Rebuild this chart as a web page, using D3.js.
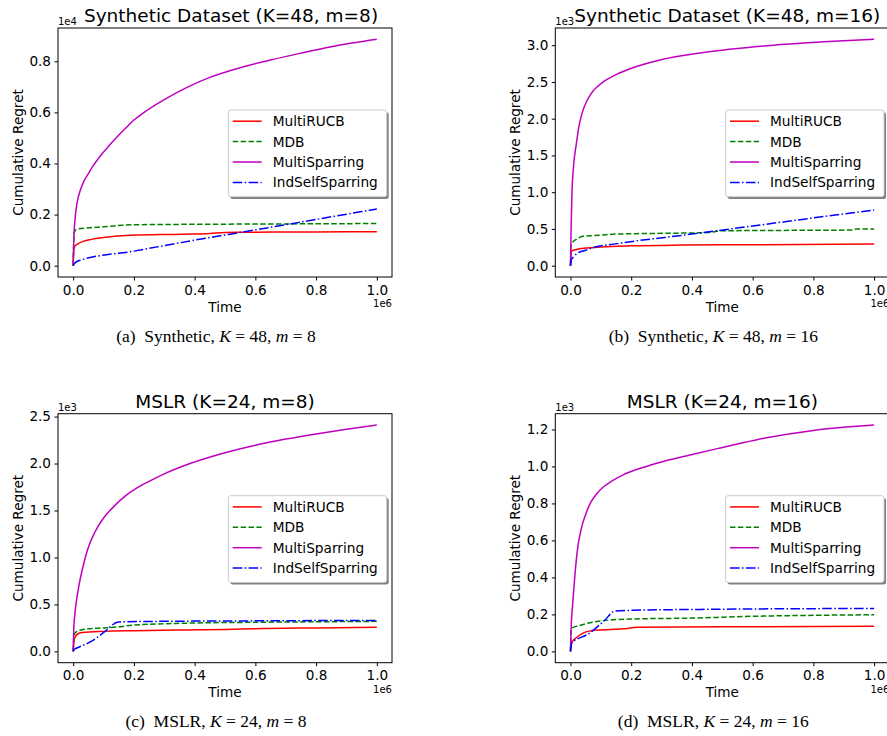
<!DOCTYPE html>
<html>
<head>
<meta charset="utf-8">
<script src="https://cdn.jsdelivr.net/npm/d3@7"></script>
<style>
  body { margin: 0; background: #fff; }
  text { font-family: 'DejaVu Sans', sans-serif; fill: #000; }
  .caption { font-family: 'Liberation Serif', 'DejaVu Serif', serif; white-space: pre; }
</style>
</head>
<body>
<div id="chart"></div>
<script>
// series order and look (same in all four panels)
let seriesNames = ['MultiRUCB', 'MDB', 'MultiSparring', 'IndSelfSparring']
let seriesColors = ['#ff0000', '#008000', '#bf00bf', '#0000ff']
let seriesDash = [null, '5.5,2.4', null, '9.6,2.4,1.5,2.4']

let timeTicks = [0, 200000, 400000, 600000, 800000, 1000000]

// (a) Synthetic, K=48, m=8   -- [time, cumulative regret]
let synth8MultiRUCB = [[0, 0], [2000, 600], [5000, 750], [15000, 850], [30000, 940], [60000, 1030], [100000, 1100], [190000, 1190], [360000, 1230], [450000, 1260], [500000, 1300], [600000, 1310], [800000, 1320], [1000000, 1330]]
let synth8MDB = [[0, 0], [3000, 1300], [12000, 1430], [50000, 1480], [100000, 1520], [160000, 1580], [200000, 1600], [400000, 1620], [600000, 1630], [800000, 1640], [1000000, 1650]]
let synth8MultiSparring = [[0, 0], [2000, 1000], [6000, 1800], [12000, 2400], [25000, 3000], [35000, 3300], [50000, 3600], [65000, 3900], [80000, 4150], [100000, 4450], [120000, 4720], [145000, 5050], [170000, 5350], [200000, 5700], [230000, 5970], [300000, 6500], [370000, 6950], [450000, 7370], [550000, 7750], [650000, 8050], [750000, 8320], [850000, 8570], [1000000, 8860]]
let synth8IndSelfSparring = [[0, 0], [5000, 100], [20000, 200], [200000, 570], [400000, 1000], [600000, 1400], [800000, 1810], [1000000, 2220]]
let synth8YTicks = [0, 2000, 4000, 6000, 8000]

// (b) Synthetic, K=48, m=16
let synth16MultiRUCB = [[0, 0], [2000, 180], [5000, 200], [20000, 220], [50000, 240], [100000, 255], [200000, 270], [360000, 280], [600000, 285], [1000000, 295]]
let synth16MDB = [[0, 0], [2000, 290], [5000, 310], [20000, 360], [40000, 400], [80000, 410], [150000, 430], [300000, 440], [450000, 450], [500000, 475], [700000, 480], [930000, 485], [940000, 500], [1000000, 500]]
let synth16MultiSparring = [[0, 0], [2000, 500], [5000, 1000], [10000, 1350], [19000, 1650], [28000, 1900], [40000, 2100], [55000, 2250], [65000, 2320], [75000, 2380], [90000, 2440], [108000, 2500], [125000, 2545], [150000, 2600], [196000, 2680], [295000, 2800], [437000, 2900], [667000, 3000], [850000, 3050], [1000000, 3080]]
let synth16IndSelfSparring = [[0, 0], [3000, 80], [10000, 120], [20000, 160], [50000, 210], [80000, 250], [153000, 300], [400000, 430], [600000, 540], [800000, 650], [1000000, 757]]
let synth16YTicks = [0, 500, 1000, 1500, 2000, 2500, 3000]

// (c) MSLR, K=24, m=8
let mslr8MultiRUCB = [[0, 0], [3000, 120], [8000, 160], [15000, 185], [30000, 200], [100000, 213], [200000, 220], [370000, 228], [500000, 233], [600000, 242], [800000, 250], [1000000, 256]]
let mslr8MDB = [[0, 0], [3000, 170], [7000, 200], [30000, 230], [50000, 240], [100000, 250], [144000, 260], [200000, 280], [370000, 300], [600000, 310], [800000, 315], [1000000, 320]]
let mslr8MultiSparring = [[0, 0], [2000, 250], [5000, 380], [10000, 520], [20000, 720], [30000, 870], [47000, 1080], [70000, 1260], [100000, 1420], [127000, 1520], [170000, 1650], [210000, 1740], [250000, 1810], [300000, 1890], [385000, 2000], [500000, 2115], [600000, 2195], [700000, 2260], [800000, 2315], [900000, 2365], [1000000, 2410]]
let mslr8IndSelfSparring = [[0, 0], [5000, 25], [12000, 36], [50000, 90], [80000, 150], [105000, 213], [149000, 313], [300000, 320], [600000, 325], [1000000, 330]]
let mslr8YTicks = [0, 500, 1000, 1500, 2000, 2500]

// (d) MSLR, K=24, m=16
let mslr16MultiRUCB = [[0, 0], [3000, 45], [20000, 75], [43000, 100], [87000, 115], [175000, 122], [220000, 130], [500000, 133], [1000000, 136]]
let mslr16MDB = [[0, 0], [2000, 110], [5000, 126], [30000, 140], [87000, 162], [196000, 175], [400000, 180], [610000, 190], [800000, 195], [1000000, 198]]
let mslr16MultiSparring = [[0, 0], [2000, 120], [7000, 250], [15000, 420], [23000, 550], [35000, 660], [50000, 740], [65000, 800], [85000, 850], [109000, 890], [140000, 925], [170000, 952], [250000, 1000], [320000, 1033], [394000, 1062], [480000, 1095], [560000, 1125], [646000, 1155], [800000, 1195], [900000, 1212], [1000000, 1224]]
let mslr16IndSelfSparring = [[0, 0], [5000, 50], [20000, 65], [54000, 90], [109000, 162], [147000, 218], [200000, 222], [500000, 228], [1000000, 232]]
let mslr16YTicks = [0, 200, 400, 600, 800, 1000, 1200]

let width = 334
let height = 249

let panels = [
  {
    title: 'Synthetic Dataset (K=48, m=8)', titleDx: 6, left: 58, top: 28, exp: 4,
    yTicks: synth8YTicks,
    series: [synth8MultiRUCB, synth8MDB, synth8MultiSparring, synth8IndSelfSparring],
    caption: [['(a)  Synthetic, ', false], ['K', true], [' = 48, ', false], ['m', true], [' = 8', false]]
  },
  {
    title: 'Synthetic Dataset (K=48, m=16)', titleDx: 5, left: 555.3, top: 28, exp: 3,
    yTicks: synth16YTicks,
    series: [synth16MultiRUCB, synth16MDB, synth16MultiSparring, synth16IndSelfSparring],
    caption: [['(b)  Synthetic, ', false], ['K', true], [' = 48, ', false], ['m', true], [' = 16', false]]
  },
  {
    title: 'MSLR (K=24, m=8)', titleDx: 0, left: 58, top: 413.7, exp: 3,
    yTicks: mslr8YTicks,
    series: [mslr8MultiRUCB, mslr8MDB, mslr8MultiSparring, mslr8IndSelfSparring],
    caption: [['(c)  MSLR, ', false], ['K', true], [' = 24, ', false], ['m', true], [' = 8', false]]
  },
  {
    title: 'MSLR (K=24, m=16)', titleDx: 0, left: 555.3, top: 413.7, exp: 3,
    yTicks: mslr16YTicks,
    series: [mslr16MultiRUCB, mslr16MDB, mslr16MultiSparring, mslr16IndSelfSparring],
    caption: [['(d)  MSLR, ', false], ['K', true], [' = 24, ', false], ['m', true], [' = 16', false]]
  }
]

let svg = d3
  .select('#chart')
  .append('svg')
  .attr('width', 887)
  .attr('height', 736)

panels.forEach(drawPanel)

function drawPanel(p) {
  let g = svg.append('g')
  let factor = Math.pow(10, p.exp)

  let xPositionScale = d3
    .scaleLinear()
    .domain([-50000, 1050000])
    .range([p.left, p.left + width])

  // matplotlib style 5% margins around the data
  let values = p.series.flatMap(s => s.map(d => d[1]))
  let yMin = d3.min(values)
  let yMax = d3.max(values)
  let pad = (yMax - yMin) * 0.05
  let yPositionScale = d3
    .scaleLinear()
    .domain([yMin - pad, yMax + pad])
    .range([p.top + height, p.top])

  let line = d3
    .line()
    .x(d => xPositionScale(d[0]))
    .y(d => yPositionScale(d[1]))
    .curve(d3.curveMonotoneX)

  let xAxis = d3
    .axisBottom(xPositionScale)
    .tickValues(timeTicks)
    .tickFormat(d => (d / 1e6).toFixed(1))
    .tickSize(3.5)
    .tickPadding(4.5)
  g.append('g')
    .attr('class', 'axis x-axis')
    .attr('transform', 'translate(0,' + (p.top + height) + ')')
    .call(xAxis)

  let yAxis = d3
    .axisLeft(yPositionScale)
    .tickValues(p.yTicks)
    .tickFormat(d => (d / factor).toFixed(1))
    .tickSize(3.5)
    .tickPadding(3.5)
  g.append('g')
    .attr('class', 'axis y-axis')
    .attr('transform', 'translate(' + p.left + ',0)')
    .call(yAxis)

  g.selectAll('.axis .domain').remove()
  g.selectAll('.axis line').attr('stroke', '#000').attr('stroke-width', 1)
  g.selectAll('.axis text')
    .attr('font-size', 13.6)
    .attr('font-family', 'DejaVu Sans')
    .attr('fill', '#000')

  g.selectAll('.tiv-line')
    .data(p.series)
    .enter()
    .append('path')
    .attr('class', 'tiv-line')
    .attr('d', d => line(d))
    .attr('fill', 'none')
    .attr('stroke', (d, i) => seriesColors[i])
    .attr('stroke-width', 1.5)
    .attr('stroke-dasharray', (d, i) => seriesDash[i])

  // frame
  g.append('rect')
    .attr('x', p.left)
    .attr('y', p.top)
    .attr('width', width)
    .attr('height', height)
    .attr('fill', 'none')
    .attr('stroke', '#000')
    .attr('stroke-width', 1)

  g.append('text')
    .attr('x', p.left + width / 2 + p.titleDx)
    .attr('y', p.top - 6)
    .attr('text-anchor', 'middle')
    .attr('font-size', 18.5)
    .text(p.title)

  g.append('text')
    .attr('x', p.left)
    .attr('y', p.top - 3)
    .attr('font-size', 10)
    .text('1e' + p.exp)

  g.append('text')
    .attr('x', p.left + width)
    .attr('y', p.top + height + 30)
    .attr('text-anchor', 'end')
    .attr('font-size', 10)
    .text('1e6')

  g.append('text')
    .attr('x', p.left + width / 2)
    .attr('y', p.top + height + 34.5)
    .attr('text-anchor', 'middle')
    .attr('font-size', 13.6)
    .text('Time')

  g.append('text')
    .attr('transform', 'translate(' + (p.left - 35) + ',' + (p.top + height / 2) + ') rotate(-90)')
    .attr('text-anchor', 'middle')
    .attr('font-size', 13.6)
    .text('Cumulative Regret')

  // legend
  let lw = 158.4
  let lh = 86.7
  let lx = p.left + width - 5.3 - lw
  let ly = p.top + 82
  g.append('rect')
    .attr('x', lx + 2)
    .attr('y', ly + 2.2)
    .attr('width', lw)
    .attr('height', lh)
    .attr('rx', 2.5)
    .attr('fill', '#000')
    .attr('opacity', 0.5)
  g.append('rect')
    .attr('x', lx)
    .attr('y', ly)
    .attr('width', lw)
    .attr('height', lh)
    .attr('rx', 2.5)
    .attr('fill', '#fff')
    .attr('stroke', '#cccccc')
    .attr('stroke-width', 1)

  seriesNames.forEach((name, i) => {
    let yy = ly + 11.2 + i * 20.4
    g.append('line')
      .attr('x1', lx + 4.4)
      .attr('x2', lx + 33.4)
      .attr('y1', yy)
      .attr('y2', yy)
      .attr('stroke', seriesColors[i])
      .attr('stroke-width', 1.5)
      .attr('stroke-dasharray', seriesDash[i])
    g.append('text')
      .attr('x', lx + 44.4)
      .attr('y', yy + 5)
      .attr('font-size', 13.7)
      .text(name)
  })

  let cap = g.append('text')
    .attr('class', 'caption')
    .attr('x', p.left + 158)
    .attr('y', p.top + height + 64.5)
    .attr('text-anchor', 'middle')
    .attr('font-size', 17.5)
  p.caption.forEach(part => {
    cap.append('tspan')
      .attr('font-style', part[1] ? 'italic' : 'normal')
      .text(part[0])
  })
}
</script>
</body>
</html>
